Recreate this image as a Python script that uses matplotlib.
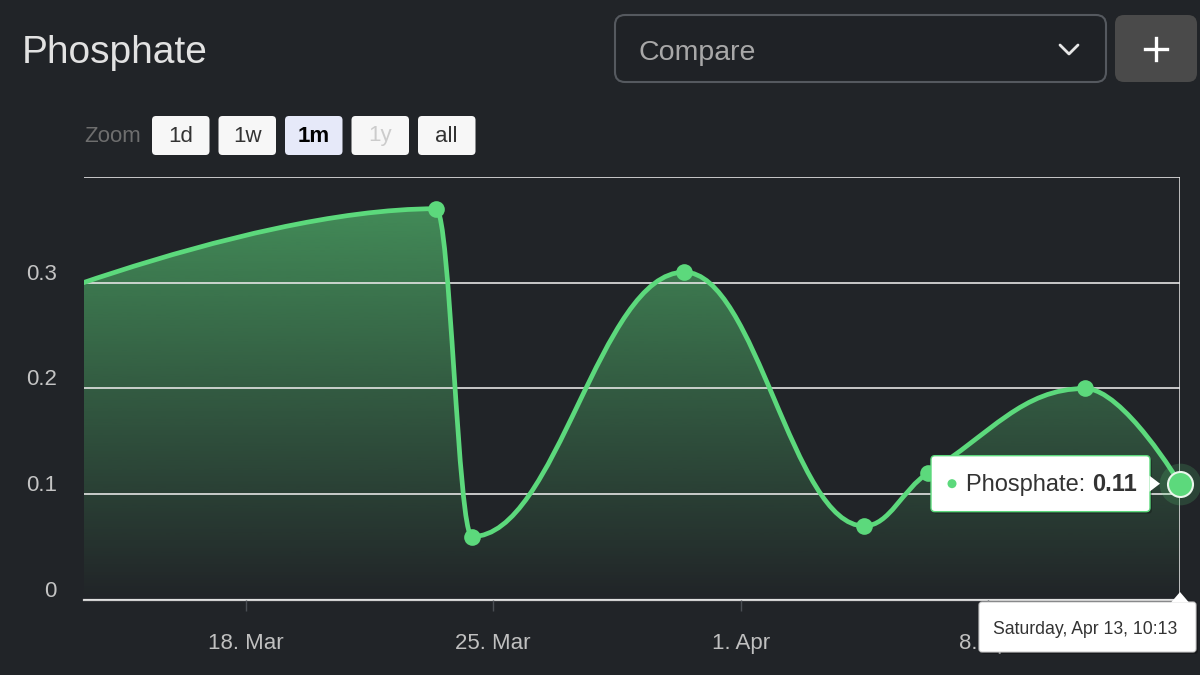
from datetime import datetime, timedelta

import numpy as np
import matplotlib
matplotlib.use("Agg")
import matplotlib.pyplot as plt
import matplotlib.dates as mdates
from matplotlib.path import Path
from matplotlib.patches import PathPatch, FancyBboxPatch, Polygon, Circle
from matplotlib.transforms import ScaledTranslation

plt.rcParams["font.family"] = ["Liberation Sans", "DejaVu Sans"]

# data
series_name = "Phosphate"
timestamps = ["2024-03-09 10:00", "2024-03-23 09:10", "2024-03-24 09:40",
              "2024-03-30 09:40", "2024-04-04 11:50", "2024-04-06 07:10",
              "2024-04-10 17:45", "2024-04-13 10:13"]
values = [0.25, 0.37, 0.06, 0.31, 0.07, 0.12, 0.20, 0.11]
y_ticks = [0, 0.1, 0.2, 0.3, 0.4]
y_tick_labels = ["0", "0.1", "0.2", "0.3", ""]
zoom_buttons = ["1d", "1w", "1m", "1y", "all"]
selected_zoom = "1m"
disabled_zoom = "1y"

BG = "#212428"
GREEN = "#5cd97c"
W, H = 1200, 675


def spline_controls(xs, ys, smoothing=1.5):
    # same control point rule as a highcharts spline
    n = len(xs)
    left = [(xs[i], ys[i]) for i in range(n)]
    right = [(xs[i], ys[i]) for i in range(n)]
    d = smoothing + 1
    for i in range(1, n - 1):
        px, py = xs[i], ys[i]
        lx, ly = xs[i - 1], ys[i - 1]
        nx, ny = xs[i + 1], ys[i + 1]
        lcx = (smoothing * px + lx) / d
        lcy = (smoothing * py + ly) / d
        rcx = (smoothing * px + nx) / d
        rcy = (smoothing * py + ny) / d
        corr = 0
        if rcx != lcx:
            corr = (rcy - lcy) * (rcx - px) / (rcx - lcx) + py - rcy
        lcy += corr
        rcy += corr
        if lcy > ly and lcy > py:
            lcy = max(ly, py)
            rcy = 2 * py - lcy
        elif lcy < ly and lcy < py:
            lcy = min(ly, py)
            rcy = 2 * py - lcy
        if rcy > ny and rcy > py:
            rcy = max(ny, py)
            lcy = 2 * py - rcy
        elif rcy < ny and rcy < py:
            rcy = min(ny, py)
            lcy = 2 * py - rcy
        left[i] = (lcx, lcy)
        right[i] = (rcx, rcy)
    verts = [(xs[0], ys[0])]
    codes = [Path.MOVETO]
    for i in range(1, n):
        verts += [right[i - 1], left[i], (xs[i], ys[i])]
        codes += [Path.CURVE4] * 3
    return verts, codes


def px(ov_x, ov_y, w, h, **kw):
    return FancyBboxPatch((ov_x, ov_y), w, h, **kw)


def main():
    dates = [datetime.strptime(t, "%Y-%m-%d %H:%M") for t in timestamps]
    xs = mdates.date2num(dates)
    end = dates[-1]
    start = end - timedelta(days=31)

    fig = plt.figure(figsize=(W / 100, H / 100), dpi=100, facecolor=BG)
    ax = fig.add_axes([84 / W, 75 / H, 1096 / W, 423 / H])
    ax.set_facecolor(BG)

    verts, codes = spline_controls(list(xs), values)
    line_path = Path(verts, codes)
    fill_path = Path(verts + [(xs[-1], 0), (xs[0], 0), (xs[0], 0)],
                     codes + [Path.LINETO, Path.LINETO, Path.CLOSEPOLY])

    # gradient fill under the curve
    top = max(values)
    rgb = matplotlib.colors.to_rgb(GREEN)
    grad = np.zeros((256, 1, 4))
    grad[:, 0, :3] = rgb
    grad[:, 0, 3] = np.linspace(0.57, 0.0, 256)
    img = ax.imshow(grad, extent=[xs[0], xs[-1], 0, top], aspect="auto",
                    origin="upper", interpolation="bilinear", zorder=1)
    fill_patch = PathPatch(fill_path, facecolor="none", edgecolor="none")
    ax.add_patch(fill_patch)
    img.set_clip_path(fill_patch)

    ax.set_xlim(mdates.date2num(start), mdates.date2num(end))
    ax.set_ylim(0, 0.4)

    ax.yaxis.grid(True, color="#e4e4e4", linewidth=1.2, zorder=1.5)
    ax.set_axisbelow(False)
    for spine in ["top", "right", "left"]:
        ax.spines[spine].set_visible(False)
    ax.spines["bottom"].set_color("#cfcfcf")
    ax.spines["bottom"].set_linewidth(1.6)
    ax.spines["bottom"].set_zorder(2)

    ax.add_patch(PathPatch(line_path, facecolor="none", edgecolor=GREEN,
                           linewidth=3.4, capstyle="round", zorder=3))

    # crosshair on the hovered point
    ax.axvline(xs[-1], color="#d8d8d8", linewidth=1.2, zorder=2.5)

    ax.plot(xs[:-1], values[:-1], "o", color=GREEN, markersize=12,
            markeredgewidth=0, zorder=4)
    ax.plot(xs[-1], values[-1], "o", color=GREEN, markersize=30, alpha=0.18,
            markeredgewidth=0, zorder=4, clip_on=False)
    ax.plot(xs[-1], values[-1], "o", color=GREEN, markersize=18,
            markeredgecolor="#eaf6ec", markeredgewidth=1.5, zorder=5,
            clip_on=False)

    ax.set_yticks(y_ticks, y_tick_labels)
    ax.tick_params(axis="y", length=0, pad=19.5, labelsize=16,
                   labelcolor="#c4c4c4")
    shift = ScaledTranslation(0, 0.11, fig.dpi_scale_trans)
    for lab in ax.get_yticklabels():
        lab.set_transform(lab.get_transform() + shift)

    ax.xaxis.set_major_locator(mdates.WeekdayLocator(byweekday=mdates.MO))
    ax.xaxis.set_major_formatter(mdates.DateFormatter("%-d. %b"))
    ax.tick_params(axis="x", length=8, width=1, color="#4a4e54", pad=16,
                   labelsize=16, labelcolor="#c0c0c0")

    # overlay in pixel units (y down) for header and tooltip
    ov = fig.add_axes([0, 0, 1, 1], zorder=10)
    ov.set_xlim(0, W)
    ov.set_ylim(H, 0)
    ov.axis("off")
    ov.patch.set_alpha(0)

    ov.text(22, 63, series_name, fontsize=28, color="#e2e2e2",
            va="baseline", ha="left")

    ov.add_patch(px(615, 15, 491, 67, boxstyle="round,pad=0,rounding_size=10",
                    facecolor="#1f2226", edgecolor="#55595f", linewidth=1.5))
    ov.text(639, 60, "Compare", fontsize=20.5, color="#a8a8a8",
            va="baseline", ha="left")
    ov.plot([1060, 1069, 1078], [45, 54, 45], color="#e6e6e6", linewidth=2,
            solid_capstyle="round", solid_joinstyle="round")

    ov.add_patch(px(1115, 15, 82, 67, boxstyle="round,pad=0,rounding_size=9",
                    facecolor="#4a4a4a", edgecolor="none"))
    ov.plot([1145, 1167], [49, 49], color="white", linewidth=2.4)
    ov.plot([1156, 1156], [38, 60], color="white", linewidth=2.4)

    ov.text(84, 137, "Zoom", fontsize=16, color="#6e6e6e", va="center",
            ha="left")
    for i, name in enumerate(zoom_buttons):
        bx = 152 + i * 66.5
        face = "#e6e9f9" if name == selected_zoom else "#f7f7f7"
        ov.add_patch(px(bx, 116, 57.5, 39,
                        boxstyle="round,pad=0,rounding_size=4",
                        facecolor=face, edgecolor="none"))
        color = "#cccccc" if name == disabled_zoom else "#333333"
        if name == selected_zoom:
            color = "#000000"
        weight = "bold" if name == selected_zoom else "normal"
        ov.text(bx + 28.75, 136, name, fontsize=16, color=color,
                fontweight=weight, va="center", ha="center")

    # tooltip anchored on the last point
    disp = ax.transData.transform((xs[-1], values[-1]))
    gx, gy = ov.transData.inverted().transform(disp)
    axis_y = ov.transData.inverted().transform(
        ax.transAxes.transform((0, 0)))[1]

    left, right = gx - 249, gx - 30
    ov.add_patch(px(left + 2, gy - 26, right - left, 56,
                    boxstyle="round,pad=0,rounding_size=4",
                    facecolor="black", alpha=0.25, edgecolor="none"))
    ov.add_patch(px(left, gy - 28, right - left, 56,
                    boxstyle="round,pad=0,rounding_size=4",
                    facecolor="#ffffff", edgecolor=GREEN, linewidth=1))
    ov.add_patch(Polygon([(right - 0.5, gy - 8), (right + 10, gy),
                          (right - 0.5, gy + 8)], closed=True,
                         facecolor="#ffffff", edgecolor="none"))
    ov.add_patch(Circle((left + 21, gy), 4.5, facecolor=GREEN,
                        edgecolor="none"))
    t1 = ov.text(left + 35, gy + 1, f"{series_name}: ", fontsize=17,
                 color="#333333", va="center", ha="left")
    renderer = fig.canvas.get_renderer()
    bb = t1.get_window_extent(renderer=renderer)
    ov.text(left + 35 + bb.width, gy + 1, f"{values[-1]:.2f}", fontsize=17,
            color="#333333", fontweight="bold", va="center", ha="left")

    # date label under the crosshair
    dl, dr = gx - 201, gx + 16
    ov.add_patch(px(dl + 2, axis_y + 4, dr - dl, 50,
                    boxstyle="round,pad=0,rounding_size=3",
                    facecolor="black", alpha=0.25, edgecolor="none"))
    ov.add_patch(px(dl, axis_y + 2, dr - dl, 50,
                    boxstyle="round,pad=0,rounding_size=3",
                    facecolor="#ffffff", edgecolor="#cccccc", linewidth=0.8))
    ov.add_patch(Polygon([(gx - 9, axis_y + 2.5), (gx, axis_y - 8),
                          (gx + 9, axis_y + 2.5)], closed=True,
                         facecolor="#ffffff", edgecolor="none"))
    ov.text((dl + dr) / 2 - 2, axis_y + 29, end.strftime("%A, %b %-d, %H:%M"),
            fontsize=12.7, color="#333333", va="center", ha="center")

    fig.savefig("out.png", dpi=100, facecolor=BG)
    plt.close(fig)


if __name__ == "__main__":
    main()
